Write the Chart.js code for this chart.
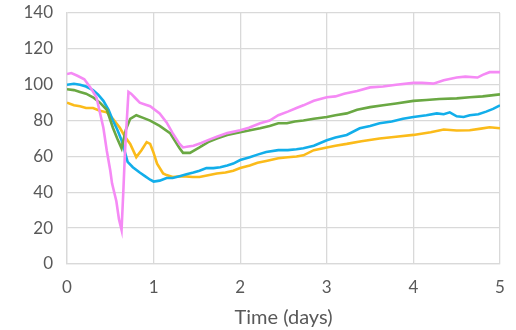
<!DOCTYPE html>
<html><head><meta charset="utf-8">
<script src="https://cdn.jsdelivr.net/npm/chart.js@4/dist/chart.umd.min.js"></script>
<style>html,body{margin:0;padding:0;background:#fff}#wrap{width:516px;height:330px}</style>
</head><body><div id="wrap"><canvas id="c" width="516" height="330"></canvas></div>
<script>
const pinkX=[0,0.05,0.12,0.2,0.27,0.34,0.42,0.46,0.5,0.52,0.57,0.6,0.63,0.65,0.67,0.71,0.74,0.78,0.84,0.9,0.96,1.07,1.15,1.22,1.3,1.34,1.4,1.46,1.55,1.65,1.73,1.85,2.0,2.1,2.23,2.34,2.44,2.55,2.65,2.73,2.85,3.0,3.1,3.2,3.35,3.5,3.65,3.8,4.0,4.1,4.23,4.35,4.5,4.6,4.74,4.8,4.88,5.0];
const pinkY=[106,106.5,105,103,98.5,93,76,63,52,45,35,25,19,40,63,96,95,93,90,89,88,84,79,73,67,65,65.5,66,67.5,69.5,71,73,74.6,76,78.5,80,83,85,87,88.5,91,93,93.5,95,96.5,98.5,99,100,101,101,100.6,102.5,104,104.5,104,105.5,107,107];
const greenX=[0,0.08,0.15,0.22,0.3,0.38,0.46,0.53,0.58,0.63,0.68,0.73,0.8,0.88,0.96,1.07,1.19,1.3,1.34,1.42,1.53,1.63,1.73,1.85,2.0,2.1,2.23,2.34,2.44,2.54,2.63,2.73,2.85,3.0,3.1,3.23,3.35,3.5,3.65,3.8,4.0,4.15,4.3,4.5,4.65,4.8,5.0];
const greenY=[97.5,97,96,95,93,90,86,76,70,64.5,75,81,83,81.5,80,77,73,64.6,62,62,65,68,70,72,73.5,74.5,75.7,77,78.5,78.5,79.5,80,81,82,83,84,86,87.5,88.5,89.5,91,91.5,92,92.4,93,93.5,94.6];
const blueX=[0,0.08,0.15,0.22,0.3,0.36,0.42,0.48,0.53,0.58,0.63,0.66,0.7,0.76,0.84,0.9,0.96,1.0,1.07,1.15,1.22,1.3,1.38,1.46,1.53,1.61,1.69,1.77,1.85,1.92,2.0,2.11,2.2,2.3,2.44,2.55,2.65,2.73,2.85,3.0,3.1,3.23,3.38,3.5,3.61,3.75,3.88,4.0,4.15,4.27,4.35,4.42,4.5,4.58,4.65,4.75,4.84,4.92,5.0];
const blueY=[100,100.5,100,99,97,94.5,91,86,80,75,69,64,57,54,51,49,47,46,46.5,48,48,49,50,51,52,53.5,53.5,54,55,56,58,59.6,61,62.5,63.5,63.5,64,64.6,66,69,70.5,72,75.7,77,78.5,79.5,81,82,83,84,83.5,84.6,82.4,82,83,83.5,85,86.5,88.5];
const yellowX=[0,0.08,0.15,0.22,0.3,0.38,0.46,0.53,0.61,0.67,0.73,0.8,0.86,0.92,0.96,1.0,1.04,1.11,1.15,1.22,1.34,1.45,1.53,1.63,1.73,1.83,1.92,2.0,2.11,2.2,2.3,2.44,2.55,2.65,2.73,2.85,3.0,3.1,3.23,3.4,3.61,3.8,4.0,4.2,4.35,4.5,4.65,4.78,4.88,5.0];
const yellowY=[90,88.5,88,87,87,85.5,84.6,81,76,71,67,59.6,63.5,68,67,62,56,50.5,49.6,48.5,49,48.5,48.5,49.5,50.5,51,52,53.5,55,56.5,57.5,59,59.5,60,60.6,63.5,65,66,67,68.5,70,71,72,73.5,75,74.5,74.6,75.5,76.3,75.7];
const xTicks=[0,1,2,3,4,5];
const yTicks=[0,20,40,60,80,100,120,140];
const xTitle='Time (days)';

function pts(xs,ys){return xs.map((x,i)=>({x:x,y:ys[i]}));}
function ds(xs,ys,color){return {data:pts(xs,ys),borderColor:color,backgroundColor:color,borderWidth:2.6,pointRadius:0,tension:0,fill:false};}
const txt='#595959', grid='#d9d9d9';
new Chart(document.getElementById('c'),{
 type:'line',
 data:{datasets:[ds(pinkX,pinkY,'#f58af5'),ds(greenX,greenY,'#6aa843'),ds(blueX,blueY,'#12aeea'),ds(yellowX,yellowY,'#fbbb1a')]},
 options:{
  responsive:false,animation:false,
  layout:{padding:{top:13,right:16,left:0,bottom:0}},
  plugins:{legend:{display:false},tooltip:{enabled:false}},
  scales:{
   x:{type:'linear',min:0,max:5,
      afterBuildTicks:s=>{s.ticks=xTicks.map(v=>({value:v}));},
      afterFit:s=>{s.height=66;s.paddingLeft=0;s.paddingRight=0;},
      grid:{color:grid,lineWidth:1.3,drawTicks:false},border:{color:grid,width:1.3},
      ticks:{padding:13,color:txt,font:{family:'Lato',size:17}},
      title:{display:true,text:xTitle,color:txt,font:{family:'Lato',size:20},padding:{top:4,bottom:0}}},
   y:{type:'linear',min:0,max:140,
      afterBuildTicks:s=>{s.ticks=yTicks.map(v=>({value:v}));},
      afterFit:s=>{s.width=67;s.paddingTop=0;s.paddingBottom=0;},
      grid:{color:grid,lineWidth:1.3,drawTicks:false},border:{color:grid,width:1.3},
      ticks:{padding:14,color:txt,font:{family:'Lato',size:17}}}
  }
 }
});
</script></body></html>
